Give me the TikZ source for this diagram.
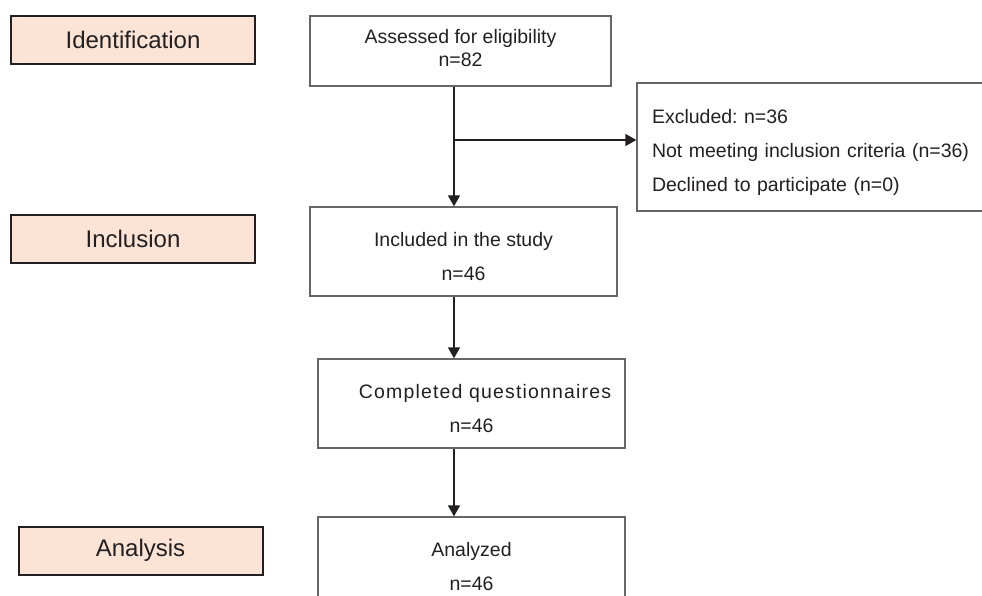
\documentclass[tikz,border=0pt]{standalone}
\usepackage{fontspec}
\setmainfont{Liberation Sans}
\usetikzlibrary{arrows.meta,positioning}
\frenchspacing
\definecolor{phasefill}{HTML}{FBE3D6}
\definecolor{ink}{HTML}{231F20}
\definecolor{edge}{HTML}{666666}
\tikzset{
  font=\fontsize{19.5}{23}\selectfont,
  phase/.style={
    draw=ink,
    line width=2pt,
    fill=phasefill,
    minimum width=244pt,
    minimum height=48pt,
    inner sep=0pt,
    text=ink,
    font=\fontsize{24}{28}\selectfont
  },
  box/.style={
    draw=edge,
    line width=1.3pt,
    align=center,
    minimum width=307pt,
    minimum height=89pt,
    inner sep=0pt,
    text height=58pt,
    text=ink,
    font=\fontsize{19.5}{34}\selectfont
  },
  note/.style={
    draw=edge,
    line width=1.3pt,
    align=left,
    text width=323pt,
    inner xsep=15pt,
    minimum height=128pt,
    text height=26pt,
    text=ink,
    font=\fontsize{19.5}{34}\selectfont
  },
  arrow/.style={-{Triangle[length=11pt,width=12pt]}, line width=1.3pt, draw=ink}
}

\begin{document}
\begin{tikzpicture}[x=1pt,y=-1pt]
\useasboundingbox (0,0) rectangle (982,596);

% Left column: phases
\node[phase] (phaseid) at (133,40) {Identification};
\node[phase] (phaseinc) at (133,238.5) {Inclusion};
\node[phase] (phaseana) at (140.5,550.5) {Analysis};

% Middle column: flow boxes
\node[box, minimum width=301pt, minimum height=70pt, text height=, text depth=6pt,
  font=\fontsize{19.5}{23}\selectfont] (assessed) at (460.5,51) {Assessed for eligibility\\n=82};
\node[box] (included) at (463.5,251.5) {Included in the study\\n=46};
\node[box] (completed) at (471.5,403.5)
  {\hspace*{27pt}{\addfontfeature{LetterSpace=6}Completed questionnaires}\\n=46};
\node[box] (analyzed) at (471.5,561.5) {Analyzed\\n=46};

% Right column: exclusions
\node[note] (excluded) at (813.5,147) {Excluded: n=36\\Not meeting inclusion criteria (n=36)\\Declined to participate (n=0)};

% Edges
\coordinate (spine) at (454,140);
\draw[arrow] (assessed.south -| spine) -- (included.north -| spine);
\draw[arrow] (spine) -- (spine -| excluded.west);
\draw[arrow] (included.south -| spine) -- (completed.north -| spine);
\draw[arrow] (completed.south -| spine) -- (analyzed.north -| spine);

\end{tikzpicture}
\end{document}
